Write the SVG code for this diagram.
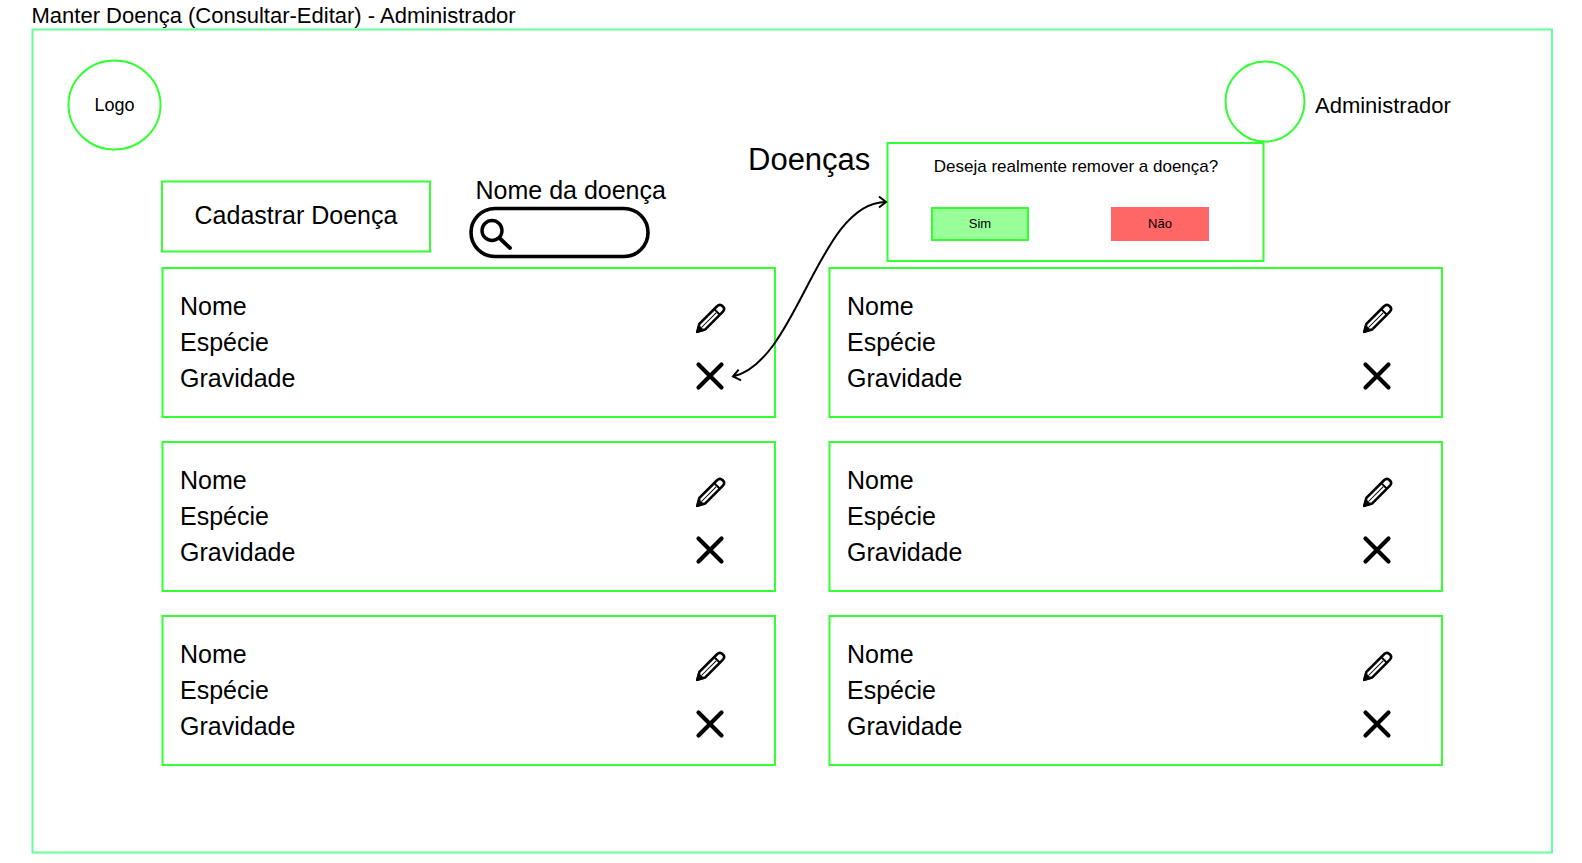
<svg xmlns="http://www.w3.org/2000/svg" width="1582" height="863" viewBox="0 0 1582 863">
<style>
text{font-family:"Liberation Sans",Arial,sans-serif;fill:#000}
.g{fill:none;stroke:#33FF33;stroke-width:2}
.card{fill:#fff;stroke:#33FF33;stroke-width:2}
.t{font-size:25px}
.ic{fill:none;stroke:#000;stroke-width:2.6;stroke-linejoin:round}
.x{fill:none;stroke:#000;stroke-width:4.2;stroke-linecap:round}
.mid{text-anchor:middle}
</style>
<defs>
<marker id="open" viewBox="0 0 12 14" refX="10" refY="7" markerWidth="12" markerHeight="14" markerUnits="userSpaceOnUse" orient="auto-start-reverse">
<path d="M3 1.500L10 7L3 12.500" fill="none" stroke="#000" stroke-width="2"/>
</marker>
<g id="pencil">
<path class="ic" d="M-18 0L-11 -4H14Q18 -4 18 0Q18 4 14 4H-11Z"/>
<path d="M10 -4V4" fill="none" stroke="#000" stroke-width="2"/>
<path d="M-12 0H9" fill="none" stroke="#000" stroke-width="1"/>
<path d="M-20 0L-12 -4.500V4.500Z" fill="#000"/>
</g>
<g id="cross"><path class="x" d="M-11.500 -11.500L11.500 11.500M11.500 -11.500L-11.500 11.500"/></g>
<g id="card">
<rect class="card" x="0.5" y="0" width="612.500" height="149"/>
<text class="t" x="18" y="47">Nome</text>
<text class="t" x="18" y="83">Espécie</text>
<text class="t" x="18" y="118.500">Gravidade</text>
<use href="#pencil" transform="translate(548 51) rotate(-45)"/>
<use href="#cross" transform="translate(548 108)"/>
</g>
</defs>
<rect width="1582" height="863" fill="#fff"/>
<text id="title" x="31.500" y="22.500" font-size="22">Manter Doença (Consultar-Editar) - Administrador</text>
<rect id="frame" x="32.500" y="29.500" width="1519.500" height="823" fill="none" stroke="#66FF99" stroke-width="2"/>
<g id="logo"><ellipse class="g" cx="114.500" cy="105" rx="46" ry="44.500"/><text class="mid" x="114.500" y="111" font-size="18">Logo</text></g>
<g id="admin"><ellipse class="g" cx="1265" cy="101.500" rx="39.500" ry="40"/><text x="1315" y="113" font-size="22">Administrador</text></g>
<g id="heading"><text x="748" y="170" font-size="31">Doenças</text></g>
<g id="cadastrar"><rect class="g" x="162" y="181.500" width="268" height="70"/><text class="t mid" x="296" y="224">Cadastrar Doença</text></g>
<g id="busca">
<text class="t" x="475.500" y="199">Nome da doença</text>
<rect x="471" y="208.500" width="177" height="48" rx="24" ry="24" fill="none" stroke="#000" stroke-width="3.600"/>
<circle cx="492" cy="230.500" r="10" fill="none" stroke="#000" stroke-width="3.400"/>
<path d="M499.500 238L510 248" fill="none" stroke="#000" stroke-width="3.800" stroke-linecap="round"/>
</g>
<g id="dialog">
<rect class="g" x="887.500" y="143" width="376" height="118"/>
<text class="mid" x="1076" y="172" font-size="17">Deseja realmente remover a doença?</text>
<rect x="932" y="208" width="96" height="32" fill="#99FF99" stroke="#33FF33" stroke-width="2"/>
<text class="mid" x="980" y="228" font-size="13">Sim</text>
<rect x="1111" y="207" width="98" height="34" fill="#FF6666"/>
<text class="mid" x="1160" y="228" font-size="13">Não</text>
</g>
<use id="card1" href="#card" transform="translate(162 268)"/>
<use id="card2" href="#card" transform="translate(829 268)"/>
<use id="card3" href="#card" transform="translate(162 442)"/>
<use id="card4" href="#card" transform="translate(829 442)"/>
<use id="card5" href="#card" transform="translate(162 616)"/>
<use id="card6" href="#card" transform="translate(829 616)"/>
<g id="connectors">
<path d="M733 376.500C798 362 818 202 886 202" fill="none" stroke="#000" stroke-width="2" marker-start="url(#open)" marker-end="url(#open)"/>
</g>
</svg>
